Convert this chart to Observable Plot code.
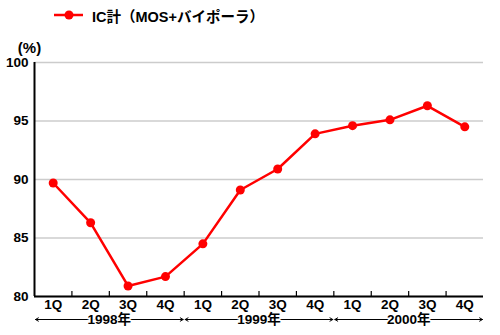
<!DOCTYPE html>
<html>
<head>
<meta charset="utf-8">
<script src="https://cdn.jsdelivr.net/npm/d3@7"></script>
<script src="https://cdn.jsdelivr.net/npm/@observablehq/plot@0.6"></script>
<style>
  html, body { margin: 0; padding: 0; background: #fff; }
  body { width: 500px; height: 335px; overflow: hidden; font-family: "Liberation Sans", Arial, "Noto Sans CJK JP", sans-serif; }
  #legend { height: 30px; position: relative; }
  #legend svg { position: absolute; left: 54px; top: 9px; }
  #legend span { position: absolute; left: 92px; top: 5px; font-size: 14.5px; font-weight: bold; color: #000; }
</style>
</head>
<body>
<div id="legend">
  <svg width="30" height="12"><line x1="0" y1="6" x2="29" y2="6" stroke="#ff0000" stroke-width="2.5"/><circle cx="15" cy="6" r="4.5" fill="#ff0000"/></svg>
  <span>IC計（MOS+バイポーラ）</span>
</div>
<div id="chart"></div>
<script>
const quarters = ["1Q","2Q","3Q","4Q","1Q","2Q","3Q","4Q","1Q","2Q","3Q","4Q"];
const values = [89.7, 86.3, 80.9, 81.7, 84.5, 89.1, 90.9, 93.9, 94.6, 95.1, 96.3, 94.5];
const years = ["1998年", "1999年", "2000年"];
const yTicks = [80, 85, 90, 95, 100];
const seriesName = "IC計（MOS+バイポーラ）";
const yUnit = "(%)";

const rows = values.map((v, i) => ({pos: i + 0.5, q: quarters[i], v}));
const yearRows = years.map((label, i) => ({start: i * 4, end: i * 4 + 4, mid: i * 4 + 2, label}));

const font = '"Liberation Sans", Arial, "Noto Sans CJK JP", sans-serif';

const chart = Plot.plot({
  width: 500,
  height: 305,
  marginTop: 32,
  marginBottom: 39,
  marginLeft: 34,
  marginRight: 17,
  x: {domain: [0, 12], axis: null},
  y: {domain: [80, 100], axis: null},
  style: {fontFamily: font, fontSize: "13.5px", fontWeight: "bold", color: "#000", background: "#fff", overflow: "visible"},
  marks: [
    Plot.gridY(yTicks, {stroke: "#cccccc", strokeOpacity: 1, strokeWidth: 1.5}),
    Plot.axisY(yTicks, {tickSize: 0, tickPadding: 6, label: null, fontSize: 13.5, fontWeight: "bold"}),
    Plot.axisX(d3.range(1, 12), {tickSize: -5, tickFormat: () => "", label: null, stroke: "#000", strokeWidth: 1.2}),
    Plot.axisX(rows.map(d => d.pos), {tickSize: 0, tickPadding: 3, tickFormat: (d) => quarters[Math.floor(d)], label: null, fontSize: 13.5, fontWeight: "bold"}),
    Plot.ruleY([80], {stroke: "#000", strokeWidth: 2}),
    Plot.ruleX([0], {stroke: "#000", strokeWidth: 2}),
    Plot.arrow(yearRows, {x1: "mid", x2: "start", y1: () => 80, y2: () => 80, dy: 23, headLength: 5, insetEnd: 1, stroke: "#000", strokeWidth: 1}),
    Plot.arrow(yearRows, {x1: "mid", x2: "end", y1: () => 80, y2: () => 80, dy: 23, headLength: 5, insetEnd: 1, stroke: "#000", strokeWidth: 1}),
    Plot.text(yearRows, {x: "mid", y: () => 80, dy: 23, text: "label", lineAnchor: "middle", fill: "#000", stroke: "#fff", strokeWidth: 3, fontSize: 13.5, fontWeight: "bold"}),
    Plot.text([yUnit], {frameAnchor: "top-left", text: d => d, dx: -5, dy: -14, lineAnchor: "middle", textAnchor: "middle", fontSize: 15, fontWeight: "bold"}),
    Plot.line(rows, {x: "pos", y: "v", stroke: "#ff0000", strokeWidth: 2.5}),
    Plot.dot(rows, {x: "pos", y: "v", r: 4.5, fill: "#ff0000", stroke: "none"})
  ]
});
document.getElementById("chart").appendChild(chart);
</script>
</body>
</html>
